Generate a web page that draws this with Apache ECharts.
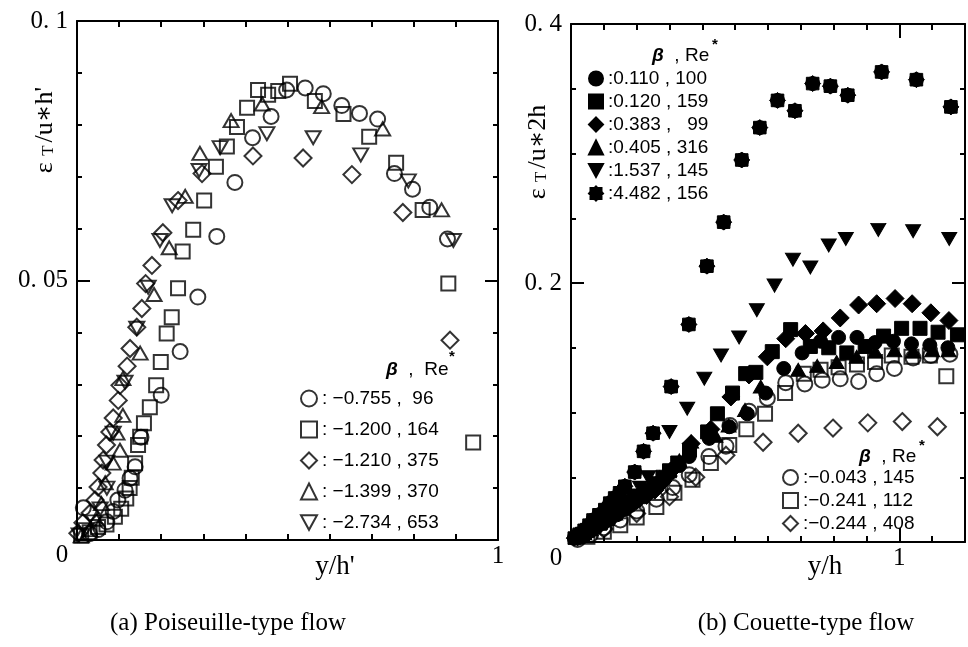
<!DOCTYPE html>
<html><head><meta charset="utf-8">
<script src="https://cdn.jsdelivr.net/npm/echarts/dist/echarts.min.js"></script>
<style>html,body{margin:0;padding:0;background:#fff}#c{width:968px;height:647px}</style>
</head><body><div id="c"></div>
<script>
// ---------- data: (a) Poiseuille-type flow ----------
const poisNames = [': \u22120.755 ,  96', ': \u22121.200 , 164', ': \u22121.210 , 375', ': \u22121.399 , 370', ': \u22122.734 , 653'];
const poisCircle = [[0.015,0.0062],[0.030,0.0012],[0.050,0.0020],[0.071,0.0035],[0.086,0.0055],[0.097,0.0077],[0.114,0.0096],[0.126,0.0119],[0.138,0.0141],[0.152,0.0198],[0.200,0.0279],[0.245,0.0363],[0.287,0.0468],[0.332,0.0585],[0.375,0.0689],[0.417,0.0775],[0.461,0.0816],[0.498,0.0867],[0.542,0.0871],[0.585,0.0860],[0.629,0.0837],[0.671,0.0822],[0.714,0.0811],[0.754,0.0706],[0.797,0.0676],[0.838,0.0641],[0.880,0.0580]];
const poisSquare = [[0.010,0.0008],[0.030,0.0015],[0.050,0.0025],[0.070,0.0030],[0.090,0.0045],[0.105,0.0060],[0.117,0.0080],[0.125,0.0100],[0.130,0.0120],[0.138,0.0148],[0.145,0.0183],[0.150,0.0199],[0.159,0.0225],[0.173,0.0256],[0.188,0.0298],[0.199,0.0343],[0.213,0.0398],[0.225,0.0429],[0.240,0.0485],[0.251,0.0556],[0.276,0.0598],[0.302,0.0654],[0.330,0.0719],[0.356,0.0758],[0.380,0.0796],[0.404,0.0833],[0.430,0.0867],[0.454,0.0858],[0.478,0.0865],[0.506,0.0879],[0.565,0.0846],[0.633,0.0821],[0.694,0.0777],[0.758,0.0727],[0.821,0.0636],[0.882,0.0494],[0.941,0.0188]];
const poisDiamond = [[0.002,0.0013],[0.014,0.0033],[0.031,0.0052],[0.043,0.0077],[0.050,0.0102],[0.059,0.0129],[0.062,0.0154],[0.070,0.0183],[0.078,0.0208],[0.086,0.0235],[0.098,0.0269],[0.102,0.0298],[0.119,0.0335],[0.126,0.0369],[0.142,0.0410],[0.154,0.0446],[0.163,0.0494],[0.178,0.0529],[0.204,0.0592],[0.240,0.0654],[0.297,0.0706],[0.418,0.0740],[0.537,0.0736],[0.653,0.0704],[0.774,0.0631],[0.886,0.0385]];
const poisTriUp = [[0.010,0.0008],[0.030,0.0020],[0.045,0.0040],[0.058,0.0070],[0.067,0.0110],[0.086,0.0148],[0.102,0.0173],[0.095,0.0206],[0.109,0.0240],[0.109,0.0311],[0.150,0.0360],[0.183,0.0473],[0.219,0.0563],[0.257,0.0662],[0.292,0.0745],[0.366,0.0808],[0.440,0.0840],[0.581,0.0835],[0.726,0.0792],[0.866,0.0636]];
const poisTriDown = [[0.005,0.0010],[0.020,0.0020],[0.040,0.0035],[0.055,0.0060],[0.071,0.0100],[0.071,0.0150],[0.086,0.0206],[0.114,0.0304],[0.142,0.0408],[0.169,0.0487],[0.197,0.0577],[0.226,0.0644],[0.290,0.0712],[0.340,0.0756],[0.451,0.0783],[0.561,0.0775],[0.674,0.0742],[0.787,0.0692],[0.894,0.0577]];

// ---------- data: (b) Couette-type flow ----------
const couNamesFilled = [':0.110 , 100', ':0.120 , 159', ':0.383 ,   99', ':0.405 , 316', ':1.537 , 145', ':4.482 , 156'];
const couNamesOpen = [':\u22120.043 , 145', ':\u22120.241 , 112', ':\u22120.244 , 408'];
const couCircleF = [[0.02,0.003],[0.035,0.005],[0.05,0.007],[0.065,0.0095],[0.08,0.012],[0.10,0.015],[0.12,0.018],[0.14,0.021],[0.16,0.025],[0.18,0.028],[0.20,0.032],[0.225,0.037],[0.25,0.042],[0.275,0.047],[0.30,0.053],[0.33,0.059],[0.36,0.066],[0.421,0.080],[0.482,0.089],[0.537,0.099],[0.593,0.115],[0.648,0.134],[0.704,0.146],[0.760,0.155],[0.815,0.158],[0.871,0.158],[0.926,0.154],[0.982,0.155],[1.037,0.153],[1.093,0.152],[1.148,0.150]];
const couSquareF = [[0.02,0.004],[0.035,0.006],[0.05,0.009],[0.07,0.012],[0.09,0.015],[0.11,0.018],[0.13,0.022],[0.155,0.026],[0.18,0.031],[0.205,0.035],[0.23,0.040],[0.255,0.045],[0.28,0.050],[0.30,0.055],[0.325,0.061],[0.361,0.071],[0.416,0.085],[0.446,0.099],[0.492,0.115],[0.532,0.130],[0.563,0.131],[0.613,0.147],[0.669,0.164],[0.729,0.151],[0.785,0.150],[0.840,0.146],[0.896,0.151],[0.952,0.159],[1.007,0.165],[1.063,0.165],[1.118,0.162],[1.177,0.160]];
const couDiamondF = [[0.02,0.004],[0.04,0.007],[0.06,0.010],[0.08,0.013],[0.10,0.016],[0.125,0.020],[0.15,0.024],[0.175,0.028],[0.20,0.032],[0.23,0.036],[0.255,0.040],[0.28,0.047],[0.309,0.056],[0.366,0.076],[0.426,0.087],[0.487,0.112],[0.542,0.129],[0.598,0.143],[0.654,0.157],[0.714,0.161],[0.768,0.163],[0.820,0.173],[0.876,0.183],[0.931,0.184],[0.987,0.188],[1.039,0.184],[1.096,0.177],[1.151,0.171]];
const couTriUpF = [[0.02,0.004],[0.04,0.007],[0.06,0.010],[0.085,0.014],[0.11,0.018],[0.135,0.022],[0.16,0.027],[0.19,0.032],[0.22,0.038],[0.245,0.044],[0.27,0.050],[0.30,0.056],[0.33,0.063],[0.366,0.0775],[0.44,0.082],[0.48,0.090],[0.53,0.102],[0.578,0.120],[0.692,0.133],[0.75,0.136],[0.809,0.139],[0.87,0.143],[0.927,0.147],[0.985,0.148],[1.042,0.147],[1.10,0.148],[1.15,0.148]];
const couTriDownF = [[0.03,0.005],[0.05,0.008],[0.07,0.012],[0.09,0.016],[0.11,0.020],[0.135,0.025],[0.16,0.030],[0.185,0.036],[0.21,0.042],[0.235,0.050],[0.300,0.085],[0.354,0.103],[0.406,0.126],[0.457,0.144],[0.512,0.158],[0.566,0.179],[0.620,0.198],[0.676,0.218],[0.729,0.212],[0.785,0.229],[0.837,0.234],[0.936,0.241],[1.042,0.240],[1.152,0.234]];
const couStarF = [[0.01,0.003],[0.025,0.006],[0.04,0.009],[0.055,0.013],[0.067,0.017],[0.085,0.021],[0.103,0.025],[0.118,0.030],[0.133,0.034],[0.148,0.038],[0.164,0.043],[0.194,0.054],[0.221,0.070],[0.250,0.084],[0.305,0.120],[0.359,0.168],[0.414,0.213],[0.465,0.247],[0.520,0.295],[0.575,0.320],[0.629,0.341],[0.682,0.333],[0.736,0.354],[0.790,0.352],[0.843,0.345],[0.946,0.363],[1.052,0.357],[1.157,0.336]];
const couCircleO = [[0.02,0.002],[0.06,0.006],[0.10,0.011],[0.15,0.017],[0.20,0.024],[0.26,0.033],[0.31,0.042],[0.36,0.052],[0.42,0.066],[0.472,0.074],[0.484,0.090],[0.542,0.101],[0.598,0.111],[0.654,0.123],[0.712,0.122],[0.765,0.125],[0.820,0.126],[0.876,0.124],[0.931,0.130],[0.985,0.134],[1.042,0.142],[1.096,0.144],[1.154,0.145]];
const couSquareO = [[0.05,0.004],[0.10,0.008],[0.15,0.013],[0.20,0.019],[0.260,0.027],[0.315,0.038],[0.370,0.048],[0.426,0.061],[0.482,0.075],[0.534,0.087],[0.591,0.099],[0.652,0.115],[0.709,0.130],[0.760,0.133],[0.815,0.135],[0.871,0.137],[0.926,0.139],[0.977,0.144],[1.037,0.143],[1.093,0.144],[1.143,0.128]];
const couDiamondO = [[0.10,0.010],[0.20,0.022],[0.30,0.035],[0.38,0.050],[0.472,0.067],[0.585,0.077],[0.692,0.084],[0.798,0.088],[0.904,0.092],[1.009,0.093],[1.116,0.089]];

// ---------- tick labels ----------
const leftYLabels = {'0.1':'0. 1', '0.05':'0. 05'};
const rightYLabels = {'0.4':'0. 4', '0.2':'0. 2'};
const xEndLabel = '1';

const SERIF = '"Liberation Serif","DejaVu Serif",serif';
const SANS = '"Liberation Sans",Arial,sans-serif';
const DOWN = 'path://M0,0 L12,0 L6,11 Z';
const STAR = 'path://M7,0 L14,7 L7,14 L0,7 Z M1.5,1.5 L12.5,1.5 L12.5,12.5 L1.5,12.5 Z M13.2,7 L12.37,10.1 L10.1,12.37 L7,13.2 L3.9,12.37 L1.63,10.1 L0.8,7 L1.63,3.9 L3.9,1.63 L7,0.8 L10.1,1.63 L12.37,3.9 Z';

const chart = echarts.init(document.getElementById('c'));

const line = {show:true, onZero:false, lineStyle:{color:'#000', width:2}};
function xAx(gi, pos, max, interval, tickLen, minorSplit, label) {
  return {type:'value', gridIndex:gi, position:pos, min:0, max:max, interval:interval,
    axisLine: line, splitLine:{show:false},
    axisTick:{show:true, inside:true, length:tickLen, lineStyle:{color:'#000', width:2}},
    minorTick: minorSplit ? {show:true, splitNumber:minorSplit, length:6, lineStyle:{color:'#000', width:2}} : {show:false},
    axisLabel: label ? {show:true, margin:4, fontFamily:SERIF, fontSize:25, color:'#000',
      formatter: v => Math.abs(v-1)<1e-9 ? xEndLabel : ''} : {show:false}
  };
}
function yAx(gi, pos, max, interval, minorSplit, labels) {
  return {type:'value', gridIndex:gi, position:pos, min:0, max:max, interval:interval,
    axisLine: line, splitLine:{show:false},
    axisTick:{show:true, inside:true, length:13, lineStyle:{color:'#000', width:2}},
    minorTick:{show:true, splitNumber:minorSplit, length:5, lineStyle:{color:'#000', width:2}},
    axisLabel: labels ? {show:true, margin:9, fontFamily:SERIF, fontSize:25, color:'#000',
      formatter: v => labels[String(+v.toFixed(4))] || ''} : {show:false}
  };
}

function open(name, data, symbol, size, gi) {
  return {type:'scatter', name:name, data:data, xAxisIndex: gi===0?0:2, yAxisIndex: gi===0?0:2,
    symbol:symbol, symbolSize:size,
    itemStyle:{color:'rgba(0,0,0,0)', borderColor:'#000', borderWidth:2},
    emphasis:{disabled:true}, silent:true};
}
function filled(name, data, symbol, size) {
  return {type:'scatter', name:name, data:data, xAxisIndex:2, yAxisIndex:2,
    symbol:symbol, symbolSize:size, itemStyle:{color:'#000', borderColor:'#000', borderWidth:1, opacity:1},
    emphasis:{disabled:true}, silent:true};
}

const legendBase = {orient:'vertical', selectedMode:false, padding:0,
  textStyle:{fontFamily:SANS, fontSize:19, color:'#000'}, itemStyle:{}};

const option = {
  animation:false,
  backgroundColor:'#fff',
  grid:[
    {left:77, top:21, width:421, height:519},
    {left:571, top:24, width:396, height:518}
  ],
  xAxis:[
    xAx(0,'bottom',1,1,6,10,true),
    xAx(0,'top',1,1,6,10,false),
    xAx(1,'bottom',1.2,0.1,6,0,true),
    xAx(1,'top',1.2,0.1,6,0,false),
    Object.assign(xAx(1,'bottom',1.2,1,14,0,false), {axisLine:{show:false, onZero:false}}),
    Object.assign(xAx(1,'top',1.2,1,14,0,false), {axisLine:{show:false, onZero:false}})
  ],
  yAxis:[
    yAx(0,'left',0.1,0.05,5,leftYLabels),
    yAx(0,'right',0.1,0.05,5,null),
    yAx(1,'left',0.4,0.2,4,rightYLabels),
    yAx(1,'right',0.4,0.2,4,null)
  ],
  legend:[
    Object.assign({}, legendBase, {data:poisNames, left:300, top:389, itemWidth:16, itemHeight:16, itemGap:12}),
    Object.assign({}, legendBase, {data:couNamesFilled, left:588, top:69, itemWidth:14, itemHeight:14, itemGap:4}),
    Object.assign({}, legendBase, {data:couNamesOpen, left:782, top:468, itemWidth:15, itemHeight:15, itemGap:4})
  ],
  series:[
    open(poisNames[0], poisCircle, 'circle', 15, 0),
    open(poisNames[1], poisSquare, 'rect', 14, 0),
    open(poisNames[2], poisDiamond, 'diamond', 17, 0),
    open(poisNames[3], poisTriUp, 'triangle', [15,13], 0),
    open(poisNames[4], poisTriDown, DOWN, [15,13], 0),
    filled(couNamesFilled[0], couCircleF, 'circle', 14),
    filled(couNamesFilled[1], couSquareF, 'rect', 14),
    filled(couNamesFilled[2], couDiamondF, 'diamond', 18),
    filled(couNamesFilled[3], couTriUpF, 'triangle', [15,13]),
    filled(couNamesFilled[4], couTriDownF, DOWN, [15,13]),
    filled(couNamesFilled[5], couStarF, STAR, 16),
    open(couNamesOpen[0], couCircleO, 'circle', 15, 1),
    open(couNamesOpen[1], couSquareO, 'rect', 14, 1),
    open(couNamesOpen[2], couDiamondO, 'diamond', 17, 1)
  ],
  graphic:[
    {type:'text', x:62, y:555, style:{text:'0', font:'25px '+SERIF, fill:'#000', align:'center', verticalAlign:'middle'}},
    {type:'text', x:556, y:558, style:{text:'0', font:'25px '+SERIF, fill:'#000', align:'center', verticalAlign:'middle'}},
    {type:'text', x:335, y:567, style:{text:"y/h'", font:'27px '+SERIF, fill:'#000', align:'center', verticalAlign:'middle'}},
    {type:'text', x:825, y:567, style:{text:'y/h', font:'27px '+SERIF, fill:'#000', align:'center', verticalAlign:'middle'}},
    {type:'text', x:45, y:130, rotation:Math.PI/2, style:{text:"{n|\u03b5 }{s|T}{n|/u\u2217h'}", align:'center', verticalAlign:'middle', fill:'#000',
      rich:{n:{fontFamily:SERIF, fontSize:26, fill:'#000'}, s:{fontFamily:SERIF, fontSize:17, fill:'#000', padding:[8,3,0,0]}}}},
    {type:'text', x:538, y:152, rotation:Math.PI/2, style:{text:"{n|\u03b5 }{s|T}{n|/u\u22172h}", align:'center', verticalAlign:'middle', fill:'#000',
      rich:{n:{fontFamily:SERIF, fontSize:26, fill:'#000'}, s:{fontFamily:SERIF, fontSize:17, fill:'#000', padding:[8,3,0,0]}}}},
    {type:'text', x:386, y:370, style:{text:'{b|\u03b2}  ,  Re', fontFamily:SANS, fontSize:19, fill:'#000', verticalAlign:'middle',
      rich:{b:{fontFamily:SANS, fontSize:19, fontStyle:'italic', fontWeight:'bold', fill:'#000'}}}},
    {type:'text', x:449, y:357, style:{text:'*', font:'bold 15px '+SANS, fill:'#000', verticalAlign:'middle'}},
    {type:'text', x:652, y:56, style:{text:'{b|\u03b2}  , Re', fontFamily:SANS, fontSize:19, fill:'#000', verticalAlign:'middle',
      rich:{b:{fontFamily:SANS, fontSize:19, fontStyle:'italic', fontWeight:'bold', fill:'#000'}}}},
    {type:'text', x:712, y:45, style:{text:'*', font:'bold 15px '+SANS, fill:'#000', verticalAlign:'middle'}},
    {type:'text', x:859, y:457, style:{text:'{b|\u03b2}  , Re', fontFamily:SANS, fontSize:19, fill:'#000', verticalAlign:'middle',
      rich:{b:{fontFamily:SANS, fontSize:19, fontStyle:'italic', fontWeight:'bold', fill:'#000'}}}},
    {type:'text', x:919, y:446, style:{text:'*', font:'bold 15px '+SANS, fill:'#000', verticalAlign:'middle'}},
    {type:'text', x:228, y:623, style:{text:'(a) Poiseuille-type flow', font:'25px '+SERIF, fill:'#000', align:'center', verticalAlign:'middle'}},
    {type:'text', x:806, y:623, style:{text:'(b) Couette-type flow', font:'25px '+SERIF, fill:'#000', align:'center', verticalAlign:'middle'}}
  ]
};
chart.setOption(option);
</script></body></html>
